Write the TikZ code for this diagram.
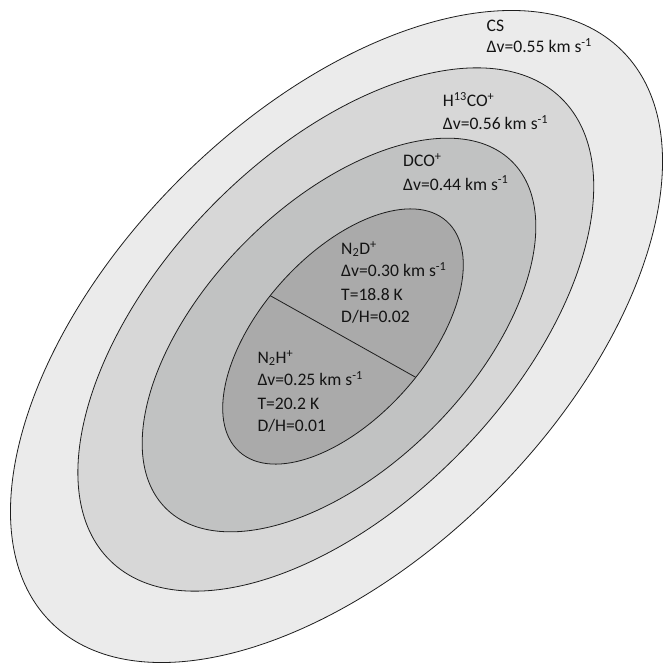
\documentclass[tikz,border=0pt]{standalone}
\usepackage{fontspec}
\setmainfont{Carlito}
\definecolor{csfill}{RGB}{235,235,235}
\definecolor{hcofill}{RGB}{215,215,215}
\definecolor{dcofill}{RGB}{193,194,194}
\definecolor{ntwofill}{RGB}{170,170,170}
\definecolor{edge}{RGB}{30,30,30}
\begin{document}
\begin{tikzpicture}[x=1pt,y=-1pt,
  shell/.style={draw=edge, line width=0.8pt},
  lbl/.style={anchor=base west, inner sep=0pt, font=\fontsize{17.6}{20}\selectfont, text=black!92}]
\useasboundingbox (0,0) rectangle (662,663);
\fill[white] (0,0) rectangle (662,663);
% shells
\draw[shell, fill=csfill, rotate around={45:(336.5,336.5)}] (336.5,336.5) ellipse [x radius=404, y radius=222];
\draw[shell, fill=hcofill, rotate around={45.75:(335.8,329.5)}] (335.8,329.5) ellipse [x radius=323, y radius=175];
\draw[shell, fill=dcofill, rotate around={45:(339,335)}] (339,335) ellipse [x radius=245, y radius=132];
\begin{scope}[shift={(343,336.5)}, rotate=48]
  \draw[shell, fill=ntwofill] (0,0) ellipse [x radius=155, y radius=82];
  \coordinate (divA) at ({155*cos(263.2)},{82*sin(263.2)});
  \coordinate (divB) at ({155*cos(83.2)},{82*sin(83.2)});
\end{scope}
\draw[edge, line width=0.8pt] (divA) -- (divB);
% labels
\node[lbl] (cs1) at (486.5,31.5) {CS};
\node[lbl] (cs2) at (486.5,53) {Δv=0.55 km s\textsuperscript{-1}};
\node[lbl] (h1) at (442.7,106.7) {H\textsuperscript{13}CO\textsuperscript{+}};
\node[lbl] (h2) at (442.7,130) {Δv=0.56 km s\textsuperscript{-1}};
\node[lbl] (d1) at (403,167) {DCO\textsuperscript{+}};
\node[lbl] (d2) at (403,190) {Δv=0.44 km s\textsuperscript{-1}};
\node[lbl] (nd1) at (341,254.3) {N\textsubscript{2}D\textsuperscript{+}};
\node[lbl] (nd2) at (341,276.7) {Δv=0.30 km s\textsuperscript{-1}};
\node[lbl] (nd3) at (341,300) {T=18.8 K};
\node[lbl] (nd4) at (341,322.7) {D/H=0.02};
\node[lbl] (nh1) at (257.3,363.3) {N\textsubscript{2}H\textsuperscript{+}};
\node[lbl] (nh2) at (257.3,385.7) {Δv=0.25 km s\textsuperscript{-1}};
\node[lbl] (nh3) at (257.3,409) {T=20.2 K};
\node[lbl] (nh4) at (257.3,431.7) {D/H=0.01};
\end{tikzpicture}
\end{document}
